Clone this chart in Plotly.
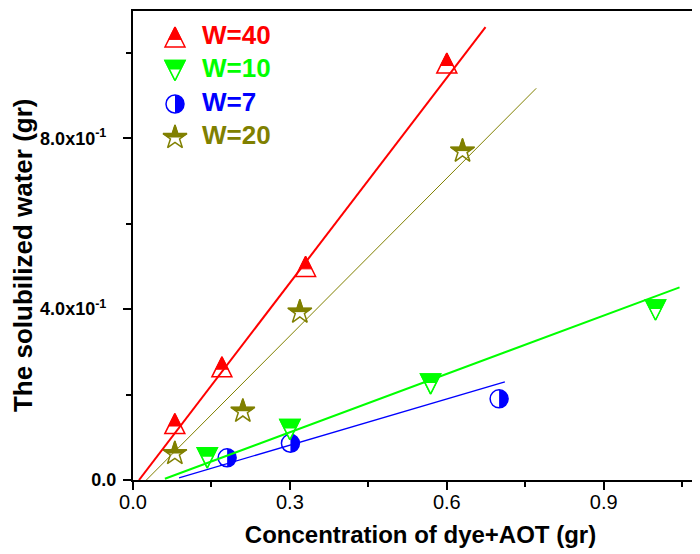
import plotly.graph_objects as go

# ---------------- data ----------------
series = ["W=40", "W=10", "W=7", "W=20"]
colors = {"W=40": "#FF0000", "W=10": "#00FF00", "W=7": "#0000FF", "W=20": "#808000"}

x_w40 = [0.080, 0.170, 0.330, 0.600]
y_w40 = [0.132, 0.265, 0.500, 0.976]
x_w10 = [0.142, 0.300, 0.569, 0.999]
y_w10 = [0.052, 0.118, 0.225, 0.398]
x_w7 = [0.180, 0.301, 0.700]
y_w7 = [0.052, 0.086, 0.190]
x_w20 = [0.080, 0.210, 0.319, 0.630]
y_w20 = [0.062, 0.161, 0.393, 0.770]

# linear fits (end points of fitted lines)
fit_x_w40 = [0.0115, 0.674]
fit_y_w40 = [0.000, 1.060]
fit_x_w20 = [0.0256, 0.771]
fit_y_w20 = [0.000, 0.917]
fit_x_w10 = [0.061, 1.045]
fit_y_w10 = [0.003, 0.451]
fit_x_w7 = [0.088, 0.711]
fit_y_w7 = [0.005, 0.230]

x_tickvals = [0.0, 0.3, 0.6, 0.9]
x_ticktext = ["0.0", "0.3", "0.6", "0.9"]
x_minor = [0.15, 0.45, 0.75, 1.05]
y_tickvals = [0.0, 0.4, 0.8]
y_ticktext = ["0.0", "4.0x10<sup>-1</sup>\u00a0\u00a0", "8.0x10<sup>-1</sup>\u00a0\u00a0"]
y_minor = [0.2, 0.6, 1.0]

FONT = "Arial, Liberation Sans, sans-serif"

fig = go.Figure()


def add(x, y, xa, ya, **marker):
    fig.add_trace(go.Scatter(x=x, y=y, mode="markers", xaxis=xa, yaxis=ya,
                             marker=marker, showlegend=False, hoverinfo="skip"))


def tri_up_half(x, y, c, xa="x", ya="y", size=20, k=0.62):
    r = size / 2
    add(x, y, xa, ya, symbol="arrow-down", angle=180, standoff=r, size=size,
        color="white", line=dict(color=c, width=1.5))
    add(x, y, xa, ya, symbol="arrow-down", angle=180, standoff=r, size=size * k,
        color=c, line=dict(color=c, width=1))


def tri_down_half(x, y, c, xa="x", ya="y", size=20, k=0.55):
    r = size / 2
    add(x, y, xa, ya, symbol="arrow-down", standoff=r, size=size,
        color=c, line=dict(color=c, width=1.5))
    add(x, y, xa, ya, symbol="arrow-down", standoff=r, size=size * k,
        color="white", line=dict(color="white", width=0))
    add(x, y, xa, ya, symbol="arrow-down-open", standoff=r, size=size,
        color=c, line=dict(color=c, width=1.5))


def circle_half(x, y, c, xa="x", ya="y", size=18):
    add(x, y, xa, ya, symbol="circle", size=size, color=c, line=dict(width=0))
    add(x, y, xa, ya, symbol="square", angle=90, standoff=size / 2, size=size,
        color="white", line=dict(width=0))
    add(x, y, xa, ya, symbol="circle-open", size=size, color=c,
        line=dict(color=c, width=1.5))


def star_half(x, y, c, xa="x", ya="y", size=18):
    add(x, y, xa, ya, symbol="star", size=size, color=c, line=dict(color=c, width=1))
    add(x, y, xa, ya, symbol="square", standoff=13, size=26,
        color="white", line=dict(width=0))
    add(x, y, xa, ya, symbol="star-open", size=size, color=c,
        line=dict(color=c, width=1.5))


builders = {"W=40": tri_up_half, "W=10": tri_down_half, "W=7": circle_half, "W=20": star_half}

# markers (drawn first, lines on top)
circle_half(x_w7, y_w7, colors["W=7"])
tri_down_half(x_w10, y_w10, colors["W=10"])
tri_up_half(x_w40, y_w40, colors["W=40"])
star_half(x_w20, y_w20, colors["W=20"])

# fitted lines
for fx, fy, c, w in [(fit_x_w40, fit_y_w40, colors["W=40"], 2),
                     (fit_x_w20, fit_y_w20, colors["W=20"], 1),
                     (fit_x_w10, fit_y_w10, colors["W=10"], 2),
                     (fit_x_w7, fit_y_w7, colors["W=7"], 1.3)]:
    fig.add_trace(go.Scatter(x=fx, y=fy, mode="lines", line=dict(color=c, width=w),
                             showlegend=False, hoverinfo="skip"))

# custom legend on hidden overlay axes (px-like x, category rows)
for s in series:
    builders[s]([42], [s], colors[s], xa="x2", ya="y2")
for s in series:
    fig.add_trace(go.Scatter(x=[69], y=[s], mode="text", text=["<b>%s</b>" % s],
                             textposition="middle right", xaxis="x2", yaxis="y2",
                             textfont=dict(family=FONT, size=26, color=colors[s]),
                             showlegend=False, hoverinfo="skip"))

axis_common = dict(showgrid=False, zeroline=False, showline=True, linecolor="black",
                   linewidth=2, ticks="outside", ticklen=8, tickwidth=2, tickcolor="black",
                   automargin=False)

fig.update_layout(
    width=700, height=554,
    margin=dict(l=125, r=0, t=3, b=82),
    paper_bgcolor="white", plot_bgcolor="white",
    font=dict(family=FONT, color="black"),
    xaxis=dict(range=[0, 1.0994], tickmode="array", tickvals=x_tickvals, ticktext=x_ticktext,
               tickfont=dict(size=20, family=FONT), mirror=True, ticklabelstandoff=-5,
               minor=dict(tickvals=x_minor, ticks="outside", ticklen=5, tickwidth=2, tickcolor="black"),
               title=dict(text="<b>Concentration of dye+AOT (gr)</b>", font=dict(size=24, family=FONT),
                          standoff=14),
               **axis_common),
    yaxis=dict(range=[0, 1.098], tickmode="array", tickvals=y_tickvals, ticktext=y_ticktext,
               tickfont=dict(size=18, family=FONT, weight="bold"), ticklabelstandoff=3,
               minor=dict(tickvals=y_minor, ticks="outside", ticklen=5, tickwidth=2, tickcolor="black"),
               **axis_common),
    xaxis2=dict(overlaying="x", range=[0, 575], visible=False),
    yaxis2=dict(overlaying="y", type="category", categoryorder="array", categoryarray=series,
                range=[13.224, -0.776], visible=False),
    annotations=[dict(text="<b>The solubilized water (gr)</b>", textangle=-90,
                      xref="paper", yref="paper", x=-0.1913, y=0.4776,
                      xanchor="center", yanchor="middle", showarrow=False,
                      font=dict(size=26, family=FONT, color="black"))],
)

fig.write_html("out.html")
